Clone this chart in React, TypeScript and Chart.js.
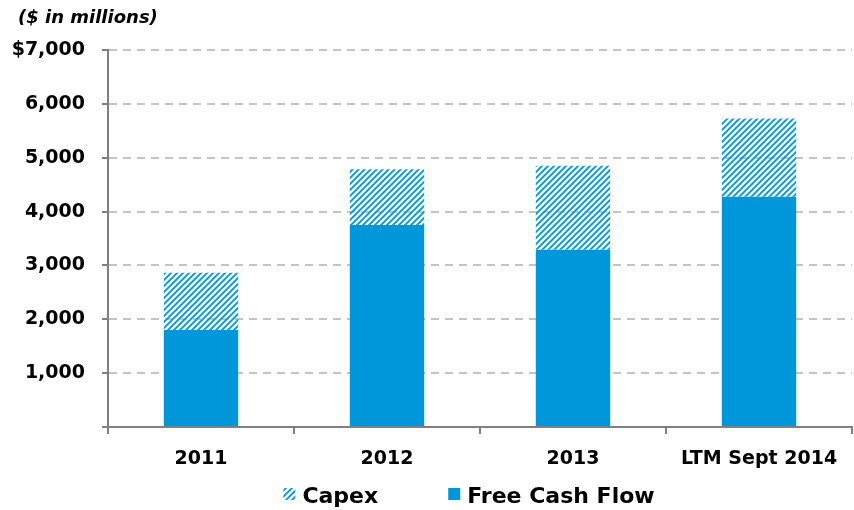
import React, { useEffect, useRef } from 'react';
import { Chart, registerables } from 'chart.js';

Chart.register(...registerables);

const categories = ['2011', '2012', '2013', 'LTM Sept 2014'];
const freeCashFlow = [1800, 3750, 3290, 4275];
const capex = [1065, 1035, 1560, 1455];
const yTickValues = [0, 1000, 2000, 3000, 4000, 5000, 6000, 7000];
const unitsNote = '($ in millions)';
const seriesNames = ['Free Cash Flow', 'Capex'];

const BLUE = '#0097DA';
const FONT = "'DejaVu Sans', sans-serif";

function makeHatch(): CanvasPattern | string {
  const c = document.createElement('canvas');
  const s = 6;
  c.width = s;
  c.height = s;
  const g = c.getContext('2d');
  if (!g) return BLUE;
  g.strokeStyle = BLUE;
  g.lineWidth = 1.8;
  g.lineCap = 'square';
  g.beginPath();
  g.moveTo(0, s);
  g.lineTo(s, 0);
  g.moveTo(-s / 2, s / 2);
  g.lineTo(s / 2, -s / 2);
  g.moveTo(s / 2, s * 1.5);
  g.lineTo(s * 1.5, s / 2);
  g.stroke();
  const p = g.createPattern(c, 'repeat');
  return p || BLUE;
}

export default function App() {
  const ref = useRef<HTMLCanvasElement | null>(null);

  useEffect(() => {
    const canvas = ref.current;
    if (!canvas) return;
    const hatch = makeHatch();

    const extrasPlugin = {
      id: 'extras',
      afterDraw(chart: any) {
        const ctx = chart.ctx as CanvasRenderingContext2D;
        const area = chart.chartArea;
        ctx.save();
        // units note
        ctx.fillStyle = '#000';
        ctx.font = `italic bold 18px ${FONT}`;
        ctx.textAlign = 'left';
        ctx.textBaseline = 'alphabetic';
        ctx.fillText(unitsNote, 18, 23);

        // legend (Capex first, then Free Cash Flow)
        const ds = chart.data.datasets;
        const items = [ds[1], ds[0]];
        ctx.font = `bold 22px ${FONT}`;
        const box = 12;
        const textGap = 7;
        const itemGap = 70;
        const widths = items.map((d: any) => box + textGap + ctx.measureText(d.label).width);
        const total = widths.reduce((a: number, b: number) => a + b, 0) + itemGap * (items.length - 1);
        let x = (area.left + area.right) / 2 - 11 - total / 2;
        const cy = 494;
        items.forEach((d: any, i: number) => {
          ctx.fillStyle = d.backgroundColor;
          ctx.fillRect(x, cy - box / 2, box, box);
          ctx.fillStyle = '#000';
          ctx.textBaseline = 'alphabetic';
          ctx.fillText(d.label, x + box + textGap, 503);
          x += widths[i] + itemGap;
        });
        ctx.restore();
      },
    };

    const chart = new Chart(canvas, {
      type: 'bar',
      data: {
        labels: categories,
        datasets: [
          {
            label: seriesNames[0],
            data: freeCashFlow,
            backgroundColor: BLUE,
            borderWidth: 0,
            barPercentage: 0.4,
            categoryPercentage: 1,
          },
          {
            label: seriesNames[1],
            data: capex,
            backgroundColor: hatch as any,
            borderWidth: 0,
            barPercentage: 0.4,
            categoryPercentage: 1,
          },
        ],
      },
      options: {
        responsive: false,
        animation: false,
        events: [],
        layout: { padding: { left: 0, top: 50, right: 2, bottom: 0 } },
        plugins: {
          legend: { display: false },
          tooltip: { enabled: false },
          title: { display: false },
        },
        scales: {
          x: {
            stacked: true,
            afterFit: (s: any) => {
              s.height = 83;
            },
            grid: {
              drawOnChartArea: false,
              drawTicks: true,
              tickLength: 7,
              tickColor: '#808080',
              tickWidth: 2,
              color: '#808080',
              lineWidth: 2,
            },
            border: { display: true, color: '#808080', width: 2 },
            ticks: {
              color: '#000',
              padding: 14,
              maxRotation: 0,
              autoSkip: false,
              font: { family: FONT, size: 19, weight: 'bold' },
            },
          },
          y: {
            stacked: true,
            min: 0,
            max: 7000,
            afterFit: (s: any) => {
              s.width = 108;
            },
            afterBuildTicks: (s: any) => {
              s.ticks = yTickValues.map((v) => ({ value: v }));
            },
            grid: {
              drawOnChartArea: true,
              drawTicks: true,
              tickLength: 6,
              tickColor: '#808080',
              tickWidth: 2,
              tickBorderDash: [],
              color: '#C4C4C4',
              lineWidth: 2,
            },
            border: { display: true, color: '#808080', width: 2, dash: [8, 6] },
            ticks: {
              color: '#000',
              padding: 17,
              font: { family: FONT, size: 19, weight: 'bold' },
              callback: (v: any) => {
                const n = Number(v);
                if (n === 0) return '';
                const s = n.toLocaleString('en-US');
                return n === 7000 ? '$' + s : s;
              },
            },
          },
        },
      },
      plugins: [extrasPlugin],
    } as any);

    return () => chart.destroy();
  }, []);

  return (
    <div style={{ position: 'fixed', left: 0, top: 0, width: 854, height: 510, background: '#fff' }}>
      <canvas ref={ref} width={854} height={510} style={{ display: 'block' }} />
    </div>
  );
}
